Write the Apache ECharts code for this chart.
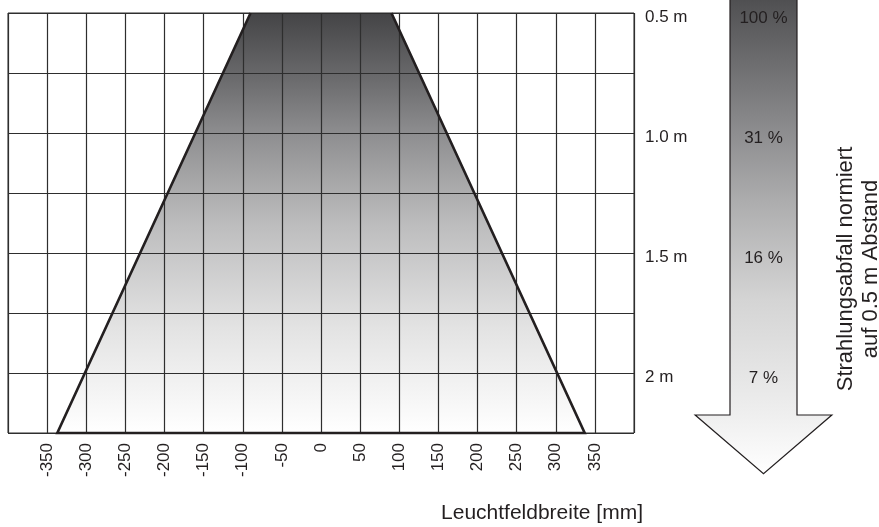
<!DOCTYPE html>
<html>
<head>
<meta charset="utf-8">
<script src="https://cdn.jsdelivr.net/npm/echarts@6/dist/echarts.min.js"></script>
<style>
    html, body { margin: 0; padding: 0; background: #fff; }
    #chart { width: 879px; height: 527px; }
</style>
</head>
<body>
<div id="chart"></div>
<script>
// Leuchtfeld (Trapez): Ecken als Breite [mm] / Abstand [m]
var beamWidth = [-90, 90, 337, -337];
var beamDistance = [0.5, 0.5, 2.25, 2.25];

// Beschriftung der Abstandsachse
var yTickValues = [0.5, 1.0, 1.5, 2.0];
var yTickLabels = ['0.5 m', '1.0 m', '1.5 m', '2 m'];

// Strahlungsabfall normiert auf 0.5 m
var falloffDistance = [0.5, 1.0, 1.5, 2.0];
var falloffLabels = ['100 %', '31 %', '16 %', '7 %'];

(function () {
    var myChart = echarts.init(document.getElementById('chart'));
    var font = '"Liberation Sans", Arial, Helvetica, sans-serif';
    var ink = '#231f20';
    var gridLine = { color: '#2e2e2e', width: 1.2 };

    function beamPoints(api) {
        var pts = [];
        for (var i = 0; i < beamWidth.length; i++) {
            pts.push(api.coord([beamWidth[i], beamDistance[i]]));
        }
        return pts;
    }

    var option = {
        animation: false,
        textStyle: { fontFamily: font },
        grid: [
            { left: 8, right: 245, top: 13, bottom: 94, show: true, borderColor: '#2e2e2e', borderWidth: 1 },
            { left: 730, width: 67, top: 13, bottom: 94 }
        ],
        xAxis: [
            {
                type: 'value', gridIndex: 0, min: -400, max: 400, interval: 50, z: 5,
                axisLine: { show: false },
                axisTick: { show: false },
                splitLine: { lineStyle: gridLine },
                axisLabel: {
                    rotate: 90, margin: 10, fontSize: 17, color: ink,
                    formatter: function (v) { return Math.abs(v) === 400 ? '' : String(v); }
                }
            },
            { type: 'value', gridIndex: 1, min: 0, max: 1, show: false }
        ],
        yAxis: [
            {
                type: 'value', gridIndex: 0, position: 'right', inverse: true,
                min: 0.5, max: 2.25, interval: 0.25, z: 5,
                axisLine: { show: false },
                axisTick: { show: false },
                splitLine: { lineStyle: gridLine },
                axisLabel: {
                    margin: 11, fontSize: 17, color: ink,
                    formatter: function (v) {
                        for (var i = 0; i < yTickValues.length; i++) {
                            if (Math.abs(yTickValues[i] - v) < 1e-6) {
                                return '{m|' + yTickLabels[i] + '}';
                            }
                        }
                        return '';
                    },
                    rich: {
                        m: { fontSize: 17, color: ink, fontFamily: font, padding: [8, 0, 0, 0] }
                    }
                }
            },
            { type: 'value', gridIndex: 1, inverse: true, min: 0.5, max: 2.25, show: false }
        ],
        series: [
            // Flaeche des Leuchtfelds
            {
                type: 'custom', xAxisIndex: 0, yAxisIndex: 0, z: 1, silent: true,
                data: [[0, 0.5]],
                renderItem: function (params, api) {
                    return {
                        type: 'polygon',
                        shape: { points: beamPoints(api) },
                        style: {
                            fill: {
                                type: 'linear', x: 0, y: 0, x2: 0, y2: 1,
                                colorStops: [
                                    { offset: 0, color: '#444446' },
                                    { offset: 0.15, color: '#69696b' },
                                    { offset: 0.3, color: '#919193' },
                                    { offset: 0.5, color: '#bcbcbd' },
                                    { offset: 0.75, color: '#e3e3e3' },
                                    { offset: 1, color: '#ffffff' }
                                ]
                            },
                            stroke: null
                        }
                    };
                }
            },
            // Rand des Leuchtfelds
            {
                type: 'custom', xAxisIndex: 0, yAxisIndex: 0, z: 10, silent: true,
                data: [[0, 0.5]],
                renderItem: function (params, api) {
                    var p = beamPoints(api);
                    return {
                        type: 'polyline',
                        shape: { points: [p[0], p[3], p[2], p[1]] },
                        style: { stroke: ink, lineWidth: 2.6, fill: null, lineJoin: 'miter' }
                    };
                }
            },
            // Pfeil Strahlungsabfall
            {
                type: 'custom', xAxisIndex: 1, yAxisIndex: 1, z: 1, silent: true, clip: false,
                data: [[0.5, 0.5]],
                renderItem: function (params, api) {
                    var pts = [
                        [0, 0.4], [1, 0.4], [1, 2.175], [1.52, 2.175],
                        [0.5, 2.42], [-0.52, 2.175], [0, 2.175]
                    ].map(function (d) { return api.coord(d); });
                    return {
                        type: 'polygon',
                        shape: { points: pts },
                        style: {
                            fill: {
                                type: 'linear', x: 0, y: 0, x2: 0, y2: 1,
                                colorStops: [
                                    { offset: 0, color: '#4a4a4c' },
                                    { offset: 0.05, color: '#565658' },
                                    { offset: 0.3, color: '#8e8e90' },
                                    { offset: 0.44, color: '#adadae' },
                                    { offset: 0.64, color: '#d4d4d4' },
                                    { offset: 0.88, color: '#efefef' },
                                    { offset: 1, color: '#ffffff' }
                                ]
                            },
                            stroke: ink, lineWidth: 1.2
                        }
                    };
                }
            },
            // Prozentwerte im Pfeil
            {
                type: 'custom', xAxisIndex: 1, yAxisIndex: 1, z: 3, silent: true, clip: false,
                data: falloffDistance.map(function (d, i) { return [0.5, d, i]; }),
                renderItem: function (params, api) {
                    var p = api.coord([api.value(0), api.value(1)]);
                    return {
                        type: 'text',
                        x: p[0], y: p[1] + 5,
                        style: {
                            text: falloffLabels[api.value(2)],
                            fill: ink, font: '17px ' + font,
                            align: 'center', verticalAlign: 'middle'
                        }
                    };
                }
            }
        ],
        graphic: [
            {
                type: 'text', x: 542, y: 513, z: 10,
                style: {
                    text: 'Leuchtfeldbreite [mm]', fill: ink, font: '21px ' + font,
                    align: 'center', verticalAlign: 'middle'
                }
            },
            {
                type: 'text', x: 858, y: 269, rotation: Math.PI / 2, z: 10,
                style: {
                    text: 'Strahlungsabfall normiert\nauf 0.5 m Abstand', fill: ink,
                    font: '22px ' + font, lineHeight: 25,
                    align: 'center', verticalAlign: 'middle'
                }
            }
        ]
    };

    myChart.setOption(option);

    window.addEventListener('resize', function () {
        myChart.resize();
    });
})();
</script>
</body>
</html>
